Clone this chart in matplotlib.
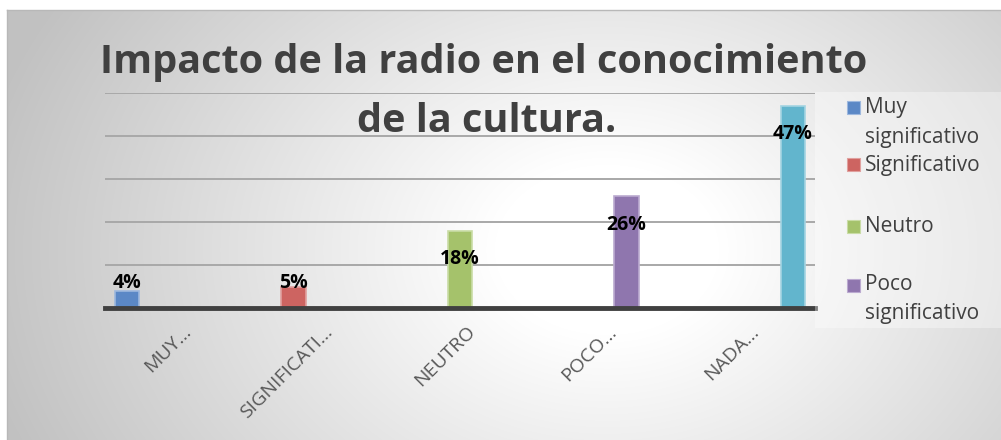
import numpy as np
import matplotlib
matplotlib.use("Agg")
import matplotlib.pyplot as plt
import matplotlib.transforms as mtransforms
from matplotlib.patches import Rectangle

# datos
categorias = ["MUY…", "SIGNIFICATI…", "NEUTRO", "POCO…", "NADA…"]
series = ["Muy significativo", "Significativo", "Neutro", "Poco significativo", "Nada significativo"]
valores = [4, 5, 18, 26, 47]
colores = ["#5B88C6", "#CD6461", "#A5C26B", "#8F76AE", "#62B5CD"]
bordes = ["#9DB8DE", "#E0A09E", "#C9DCA5", "#BBAAD0", "#A3D4E2"]
leyenda = [["Muy", "significativo"], ["Significativo"], ["Neutro"], ["Poco", "significativo"]]

W, H = 1001, 440
fig = plt.figure(figsize=(W / 100, H / 100), dpi=100)
fig.patch.set_facecolor("white")

# fondo con degradado radial
bg = fig.add_axes([7 / W, 0, (W - 7) / W, (H - 10) / H])
yy, xx = np.mgrid[0:430, 0:994]
cx, cy = 600, 240
r = np.sqrt(((xx - cx) / 1.25) ** 2 + ((yy - cy) / 0.95) ** 2)
t = np.clip((r - 90) / 420, 0, 1)
g = 1.0 - 0.24 * t
bg.imshow(np.dstack([g, g, g]), aspect="auto", extent=[0, 994, 430, 0])
bg.set_xlim(0, 994)
bg.set_ylim(430, 0)
bg.axis("off")
fig.add_artist(plt.Line2D([7 / W, 1], [(H - 10) / H] * 2, color="#b8b8b8", lw=1))
fig.add_artist(plt.Line2D([7 / W, 7 / W], [0, (H - 10) / H], color="#b8b8b8", lw=1))

# area de grafico
ax = fig.add_axes([105 / W, (H - 308) / H, 710 / W, 215 / H])
ax.set_facecolor("none")
n = len(series)
b = 0.172
gap = 1 - n * b
for k, v in enumerate(valores):
    x = k - 0.5 + gap / 2 + k * b + b / 2
    ax.bar(x, v, width=b, color=colores[k], edgecolor=bordes[k], linewidth=1.2, zorder=3)
    ly = max(v - 6.6, 5.7)
    ax.text(x, ly, f"{v}%", ha="center", va="center", fontsize=14, fontweight="bold",
            family="Open Sans", color="black", zorder=5)

ax.set_xlim(-0.5, n - 0.5)
ax.set_ylim(0, 50)
ax.set_yticks([10, 20, 30, 40, 50])
ax.yaxis.grid(True, color="#a8a8a8", lw=1.4, zorder=0)
ax.tick_params(axis="y", left=False, labelleft=False)
for s in ["top", "right", "left"]:
    ax.spines[s].set_visible(False)
ax.spines["bottom"].set_color("#404040")
ax.spines["bottom"].set_linewidth(3.5)
ax.spines["bottom"].set_zorder(4)
ax.set_xticks(range(n))
ax.set_xticklabels(categorias, rotation=45, ha="right", va="center",
                   rotation_mode="anchor", fontsize=14, family="Open Sans", color="#595959")
ax.tick_params(axis="x", length=0, pad=15)
desplaza = mtransforms.ScaledTranslation(12 / 100, 0, fig.dpi_scale_trans)
for lbl in ax.get_xticklabels():
    lbl.set_transform(lbl.get_transform() + desplaza)

# titulo
fig.text(484 / W, 1 - 73 / H, "Impacto de la radio en el conocimiento", ha="center", va="baseline",
         fontsize=28.5, fontweight="bold", family="Open Sans", color="#404040")
fig.text(487 / W, 1 - 132 / H, "de la cultura.", ha="center", va="baseline",
         fontsize=28.5, fontweight="bold", family="Open Sans", color="#404040")

# leyenda
fig.add_artist(Rectangle((815 / W, 1 - 328 / H), (W - 815) / W, 236 / H, transform=fig.transFigure,
                         facecolor="white", alpha=0.35, edgecolor="none"))
pos_marca = [108, 165, 226, 285]
for k, lineas in enumerate(leyenda):
    y = pos_marca[k]
    fig.add_artist(Rectangle((847 / W, 1 - (y + 6.5) / H), 13 / W, 13 / H, transform=fig.transFigure,
                             facecolor=colores[k], edgecolor=bordes[k], lw=0.8))
    for j, txt in enumerate(lineas):
        fig.text(865 / W, 1 - (y + 29 * j) / H, txt, ha="left", va="center", fontsize=15,
                 family="Open Sans", color="#404040")

plt.savefig("out.png", dpi=100)
